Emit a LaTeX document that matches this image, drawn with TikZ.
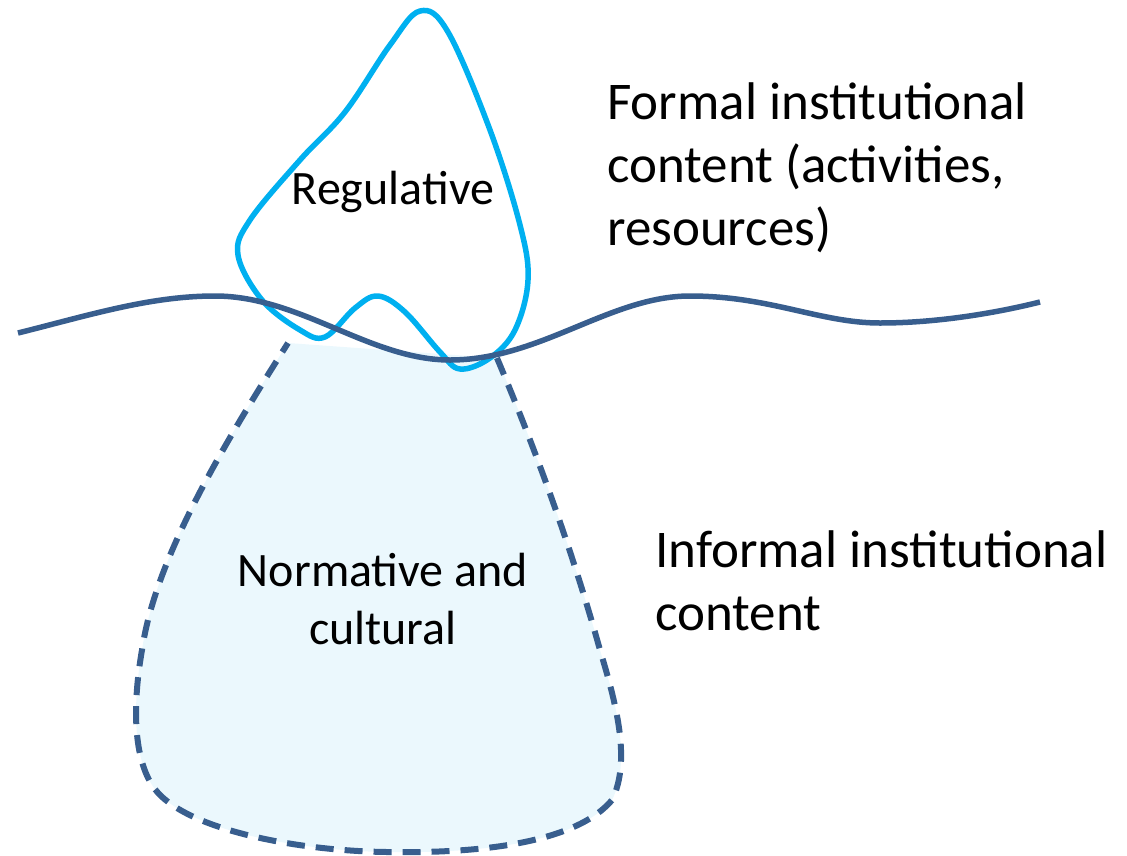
\documentclass[tikz,border=0pt]{standalone}
\usepackage{fontspec}
\setmainfont{Carlito}
\definecolor{regcyan}{HTML}{00B0F0}
\definecolor{darkline}{HTML}{385E8E}
\definecolor{normfill}{HTML}{EBF8FD}
\begin{document}
\begin{tikzpicture}[x=1pt,y=-1pt,
  regline/.style={draw=regcyan,line width=5.5pt,line join=round},
  wave/.style={draw=darkline,line width=5.5pt},
  normline/.style={draw=darkline,line width=6pt,dash pattern=on 18pt off 11pt},
  bigtext/.style={inner sep=0pt,font=\fontsize{53}{63}\selectfont,align=left},
  midtext/.style={inner sep=0pt,font=\fontsize{48}{58}\selectfont,align=center}]
\useasboundingbox (0,0) rectangle (1127,855);
% normative blob fill
\fill[normfill] (288,343) -- (497,358)
  .. controls (540,460) and (575,560) .. (600,650)
  .. controls (615,700) and (632,760) .. (612,800)
  .. controls (570,850) and (450,853) .. (387,852)
  .. controls (300,851) and (180,830) .. (152,785)
  .. controls (130,750) and (135,690) .. (142,650)
  .. controls (155,560) and (220,450) .. (288,343) -- cycle;
\draw[normline] (497,358)
  .. controls (540,460) and (575,560) .. (600,650)
  .. controls (615,700) and (632,760) .. (612,800)
  .. controls (570,850) and (450,853) .. (387,852)
  .. controls (300,851) and (180,830) .. (152,785)
  .. controls (130,750) and (135,690) .. (142,650)
  .. controls (155,560) and (220,450) .. (288,343);
% regulative blob
\draw[regline] plot[smooth cycle,tension=0.6] coordinates {
  (420,11) (448,32) (490,130) (520,225) (528,280) (515,330) (490,358)
  (460,369) (440,352) (405,312) (378,296) (355,308) (325,337) (300,330)
  (262,300) (238,255) (250,220) (300,160) (345,112) (390,45)};
% wave line
\draw[wave] (18,333) .. controls (90,315) and (150,296) .. (215,296)
  .. controls (300,296) and (370,360) .. (450,360)
  .. controls (540,360) and (610,296) .. (690,296)
  .. controls (770,296) and (820,323) .. (880,323)
  .. controls (940,323) and (1000,312) .. (1040,302);
% texts
\node[midtext] (reg) at (393,192) {Regulative};
\node[midtext] (norm) at (383,599) {Normative and\\cultural};
\node[bigtext,anchor=north west] (formal) at (607,82) {Formal institutional\\content (activities,\\resources)};
\node[bigtext,anchor=north west] (informal) at (655,530) {Informal institutional\\content};
\end{tikzpicture}
\end{document}
